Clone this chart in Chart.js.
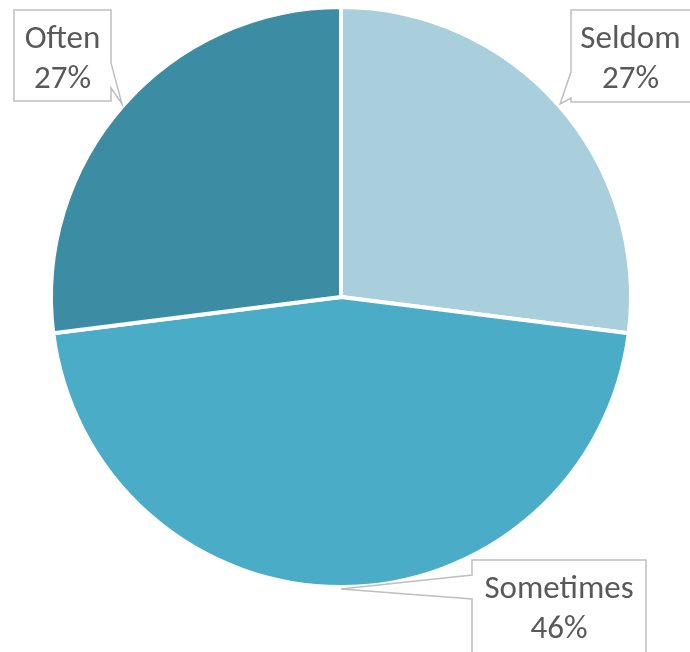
<!DOCTYPE html>
<html>
<head>
<meta charset="utf-8">
<script src="https://cdn.jsdelivr.net/npm/chart.js@4"></script>
<style>
  html, body { margin: 0; padding: 0; background: #fff; }
  #wrap { width: 690px; height: 652px; }
</style>
</head>
<body>
<div id="wrap"><canvas id="pie"></canvas></div>
<script>
const categories = ['Seldom', 'Sometimes', 'Often'];
const shares = [27, 46, 27];
const sliceColors = ['#A9CFDC', '#4AACC6', '#3C8CA3'];

// callout boxes: x, y, w, h, side the pointer leaves from, pointer base span
const callouts = [
  { x: 571, y: 10, w: 125, h: 92, side: 'left', b0: 62, b1: 88 },
  { x: 472, y: 560, w: 174, h: 100, side: 'left', b0: 15, b1: 39 },
  { x: 14, y: 10, w: 97, h: 91, side: 'right', b0: 53, b1: 78 }
];

const calloutPlugin = {
  id: 'callouts',
  afterDatasetsDraw(chart) {
    const ctx = chart.ctx;
    const meta = chart.getDatasetMeta(0);
    const total = shares.reduce((a, b) => a + b, 0);
    meta.data.forEach((arc, i) => {
      const c = callouts[i];
      const mid = (arc.startAngle + arc.endAngle) / 2;
      const r = arc.outerRadius + 2;
      const tx = arc.x + Math.cos(mid) * r;
      const ty = arc.y + Math.sin(mid) * r;
      const L = c.x, T = c.y, R = c.x + c.w, B = c.y + c.h;
      ctx.save();
      ctx.beginPath();
      if (c.side === 'left') {
        ctx.moveTo(L, T);
        ctx.lineTo(R, T);
        ctx.lineTo(R, B);
        ctx.lineTo(L, B);
        ctx.lineTo(L, T + c.b1);
        ctx.lineTo(tx, ty);
        ctx.lineTo(L, T + c.b0);
      } else {
        ctx.moveTo(L, T);
        ctx.lineTo(R, T);
        ctx.lineTo(R, T + c.b0);
        ctx.lineTo(tx, ty);
        ctx.lineTo(R, T + c.b1);
        ctx.lineTo(R, B);
        ctx.lineTo(L, B);
      }
      ctx.closePath();
      ctx.fillStyle = '#ffffff';
      ctx.fill();
      ctx.strokeStyle = '#BFBFBF';
      ctx.lineWidth = 1.5;
      ctx.stroke();

      ctx.fillStyle = '#595959';
      ctx.font = '33px Carlito, Lato, "Open Sans", sans-serif';
      ctx.textAlign = 'center';
      ctx.textBaseline = 'alphabetic';
      const cx = (L + Math.min(R, 690)) / 2;
      const pct = Math.round(shares[i] / total * 100) + '%';
      ctx.fillText(categories[i], cx, T + 38);
      ctx.fillText(pct, cx, T + 78);
      ctx.restore();
    });
  }
};

new Chart(document.getElementById('pie'), {
  type: 'pie',
  data: {
    labels: categories,
    datasets: [{
      data: shares,
      backgroundColor: sliceColors,
      borderColor: '#ffffff',
      borderWidth: 4
    }]
  },
  options: {
    responsive: true,
    maintainAspectRatio: false,
    animation: false,
    layout: { padding: { top: 5, bottom: 63, left: 49, right: 57 } },
    plugins: {
      legend: { display: false },
      tooltip: { enabled: false }
    }
  },
  plugins: [calloutPlugin]
});
</script>
</body>
</html>
